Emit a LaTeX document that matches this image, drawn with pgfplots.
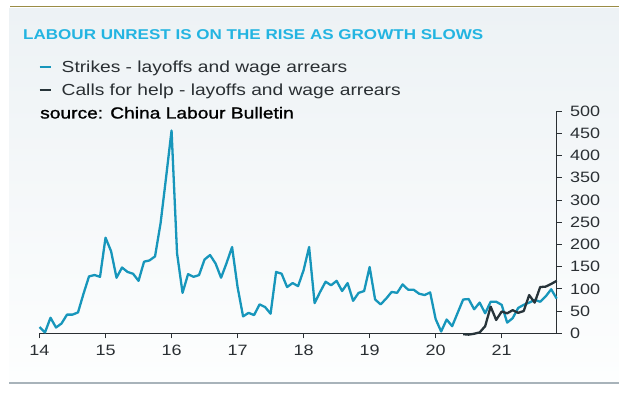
\documentclass[border=0pt]{standalone}
\usepackage{fontspec}
\setmainfont{Liberation Sans}[FakeStretch=1.2]
\newfontfamily\srcfont{Liberation Sans}[FakeStretch=1.2,FakeBold=1.2]
\usepackage{pgfplots}
\pgfplotsset{compat=1.18}
\usepackage{pgfplotstable}
\definecolor{strikeblue}{HTML}{1796BB}
\definecolor{titlecyan}{HTML}{23B4E1}
\definecolor{callsdark}{HTML}{27343A}
\definecolor{topline}{HTML}{9A8C45}
\definecolor{botline}{HTML}{A8B3BA}
\definecolor{paneltop}{HTML}{EDF2F5}
\definecolor{panelbot}{HTML}{FDFEFE}
\definecolor{txt}{HTML}{2A2F33}

\pgfplotstableread{
m v
0 14
1 2
2 35
3 13
4 22
5 42
6 42
7 47
8 89
9 128
10 131
11 127
12 215
13 185
14 125
15 148
16 138
17 134
18 118
19 161
20 164
21 173
22 247
23 350
24 456
25 180
26 91
27 133
28 127
29 131
30 166
31 176
32 157
33 125
34 158
35 194
36 104
37 38
38 46
39 41
40 65
41 59
42 44
43 138
44 134
45 104
46 113
47 106
48 142
49 194
50 68
51 93
52 116
53 108
54 118
55 95
56 113
57 73
58 91
59 95
60 149
61 76
62 65
63 78
64 93
65 91
66 110
67 98
68 98
69 89
70 86
71 92
72 32
73 4
74 31
75 16
76 46
77 76
78 77
79 54
80 69
81 45
82 71
83 71
84 64
85 24
86 34
87 57
88 64
89 69
90 75
91 71
92 83
93 99
94 78
}\strikes

\pgfplotstableread{
m v
77 -2
78 -3
79 -1
80 2
81 16
82 60
83 30
84 49
85 45
86 52
87 46
88 50
89 86
90 69
91 104
92 105
93 111
94 118
}\calls

\begin{document}
\begin{tikzpicture}[x=1pt,y=1pt]
\path[use as bounding box] (0,0) rectangle (619,396);
\fill[white] (0,0) rectangle (619,396);
\shade[top color=paneltop, bottom color=panelbot] (9,14) rectangle (619,387);
\draw[topline, line width=1.6pt] (10,389.5) -- (619,389.5);
\draw[botline, line width=2.2pt] (9,13) -- (619,13);

\node[anchor=base west, inner sep=0pt, text=titlecyan, font=\bfseries\fontsize{14.2}{17}\selectfont] at (23,356) {LABOUR UNREST IS ON THE RISE AS GROWTH SLOWS};

\draw[strikeblue, line width=2.4pt] (39.5,329) -- (50.5,329);
\node[anchor=base west, inner sep=0pt, text=txt, font=\fontsize{16}{19}\selectfont] at (61.5,323.5) {Strikes - layoffs and wage arrears};
\draw[callsdark, line width=2.4pt] (39.5,306) -- (50.5,306);
\node[anchor=base west, inner sep=0pt, text=txt, font=\fontsize{16}{19}\selectfont] at (61.5,300.5) {Calls for help - layoffs and wage arrears};
\node[anchor=base west, inner sep=0pt, text=black, font=\srcfont\fontsize{16}{19}\selectfont] at (40,277.5) {source: China Labour Bulletin};

\begin{axis}[
  at={(39.5pt,62.7pt)}, anchor=south west,
  scale only axis, width=517.2pt, height=222.3pt,
  xmin=0, xmax=94, ymin=0, ymax=500,
  clip=false,
  axis x line*=bottom, axis y line*=right,
  axis line style={-, color=txt, line width=0.9pt},
  xtick={0,12,24,36,48,60,72,84},
  xticklabels={14,15,16,17,18,19,20,21},
  ytick={0,50,...,500},
  tick align=outside,
  major tick length=5pt,
  tick style={color=txt, line width=0.8pt},
  /pgf/number format/assume math mode=true,
  ticklabel style={font=\fontsize{15}{18}\selectfont, text=txt},
  yticklabel style={anchor=west, xshift=5pt},
  xticklabel style={yshift=-3.5pt},
]
\addplot[strikeblue, line width=2.3pt, line join=round] table[x=m,y=v] {\strikes};
\addplot[callsdark, line width=2.3pt, line join=round] table[x=m,y=v] {\calls};
\end{axis}
\end{tikzpicture}
\end{document}
